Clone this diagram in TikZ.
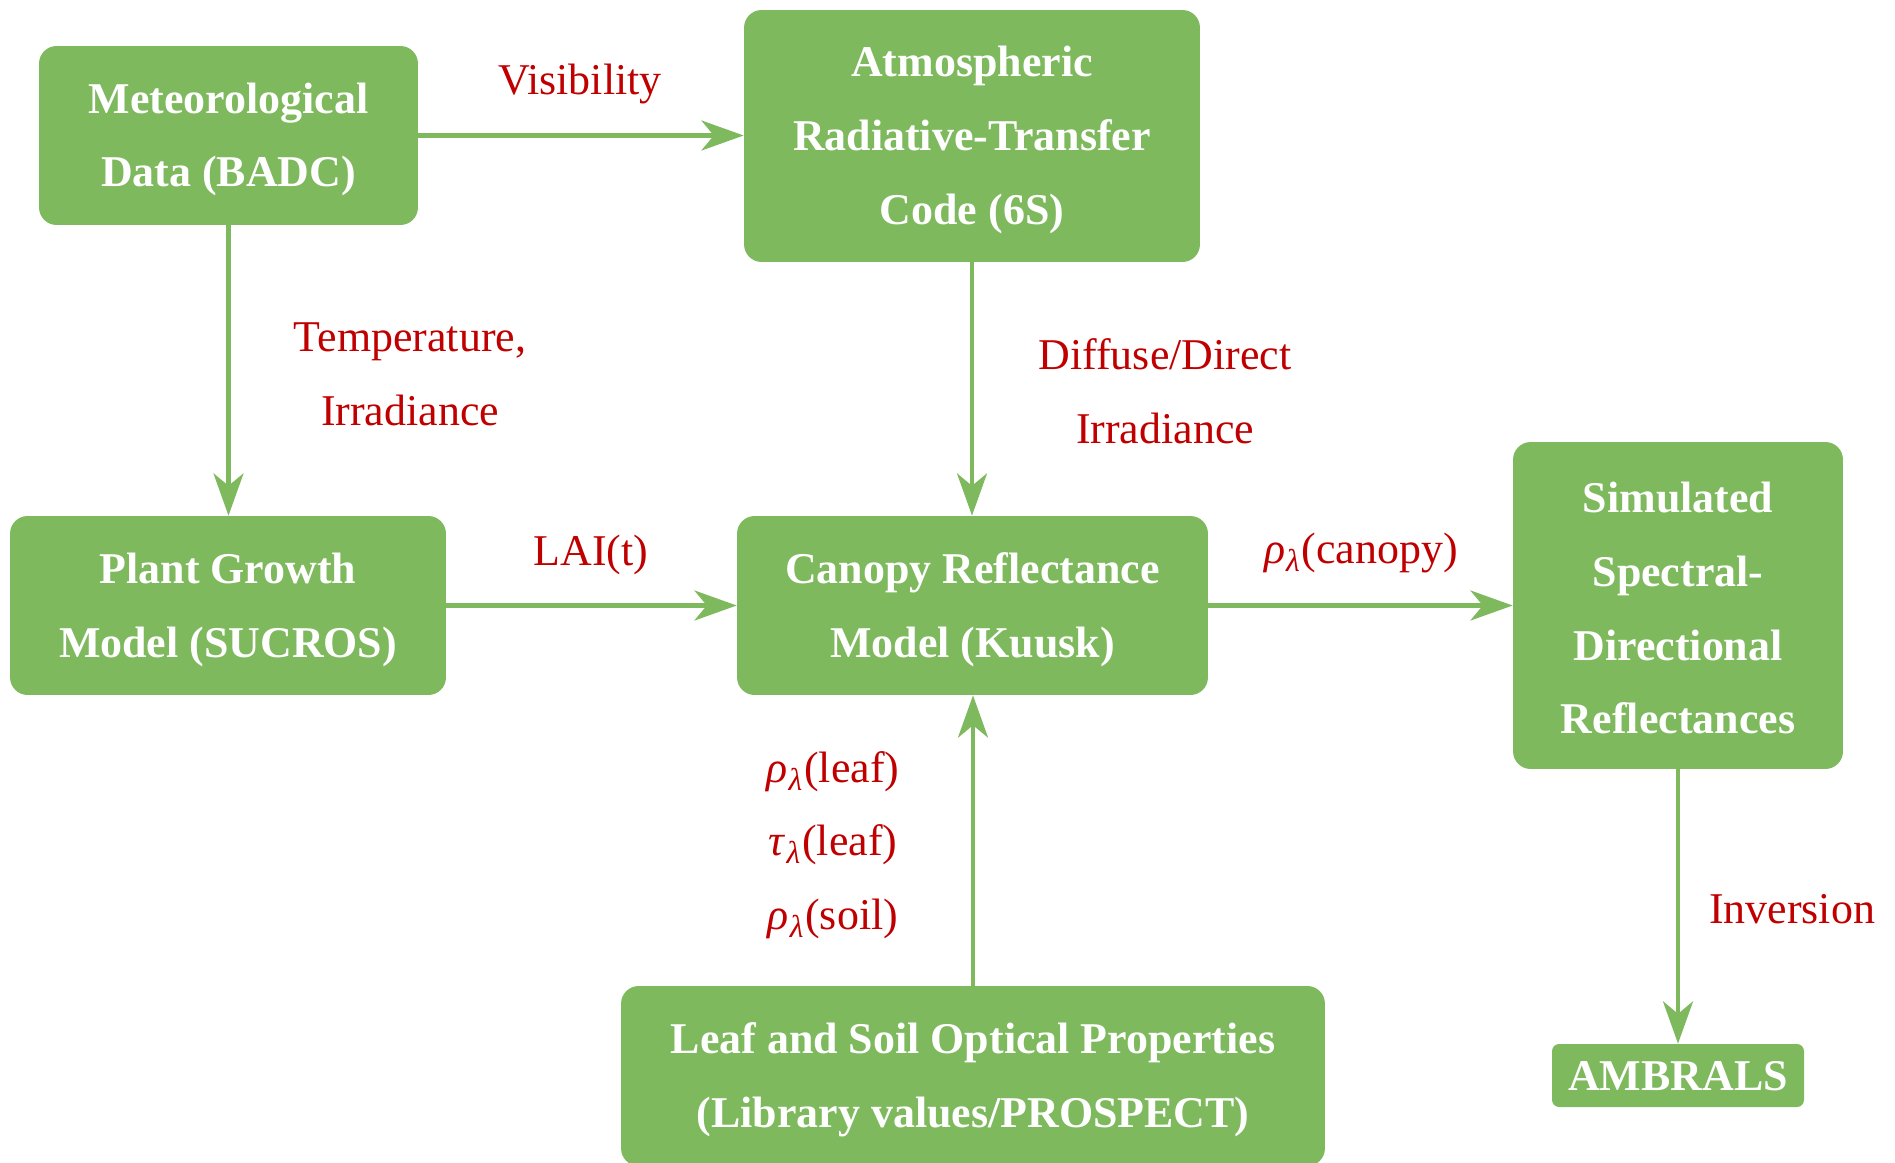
\documentclass[tikz,border=0pt]{standalone}
\usepackage{fontspec}
\setmainfont{Liberation Serif}
\usetikzlibrary{arrows.meta}
\definecolor{boxgreen}{RGB}{126,185,94}
\definecolor{labred}{RGB}{192,0,0}
\newcommand\grk[1]{\textit{#1}\kern0.5pt\raisebox{-0.4ex}{\fontsize{18}{18}\selectfont\textit{λ}}\kern1pt}
\begin{document}
\begin{tikzpicture}[x=0.02cm,y=-0.02cm,
  box/.style={fill=boxgreen, rounded corners=10pt, inner sep=0pt},
  boxtext/.style={text=white, font=\fontsize{25}{42}\selectfont\bfseries, align=center, inner sep=0pt},
  lab/.style={text=labred, font=\fontsize{25}{42}\selectfont, align=center, inner sep=0pt},
  arr/.style={draw=boxgreen, line width=2.8pt, -{Stealth[length=24pt,width=17pt,inset=7pt]}}]
\useasboundingbox (0,0) rectangle (1895,1162);
\node[box, minimum width=7.58cm, minimum height=3.58cm] (met) at (228.5,135.5) {};
\node[box, minimum width=9.12cm, minimum height=5.04cm] (atm) at (972,136) {};
\node[box, minimum width=8.72cm, minimum height=3.58cm] (plant) at (228,605.5) {};
\node[box, minimum width=9.42cm, minimum height=3.58cm] (can) at (972.5,605.5) {};
\node[box, minimum width=6.6cm, minimum height=6.54cm] (sim) at (1678,605.5) {};
\node[box, rounded corners=4pt, minimum width=5.04cm, minimum height=1.26cm] (amb) at (1678,1075.5) {};
\node[box, minimum width=14.08cm, minimum height=3.6cm] (leaf) at (973,1076) {};

\node[boxtext] (metT) at ([yshift=-2.3pt]met.center) {Meteorological\\Data (BADC)};
\node[boxtext] (atmT) at ([yshift=-2.3pt]atm.center) {Atmospheric\\Radiative-Transfer\\Code (6S)};
\node[boxtext] (plantT) at ([yshift=-2.3pt]plant.center) {Plant Growth\\Model (SUCROS)};
\node[boxtext] (canT) at ([yshift=-2.3pt]can.center) {Canopy Reflectance\\Model (Kuusk)};
\node[boxtext] (simT) at ([yshift=-1.5pt]sim.center) {Simulated\\Spectral-\\Directional\\Reflectances};
\node[boxtext] (ambT) at ([yshift=-0.6pt]amb.center) {AMBRALS};
\node[boxtext] (leafT) at ([yshift=-2.3pt]leaf.center) {Leaf and Soil Optical Properties\\(Library values/PROSPECT)};

\node[lab] (vis) at (580,84) {Visibility};
\node[lab] (temp) at (410,374) {Temperature,\\Irradiance};
\node[lab] (diff) at (1165,391) {Diffuse/Direct\\Irradiance};
\node[lab] (lai) at (591,555) {LAI(t)};
\node[lab] (rc) at (1361,553) {\grk{ρ}(canopy)};
\node[lab] (rl) at (833,845) {\grk{ρ}(leaf)\\\grk{τ}(leaf)\\\grk{ρ}(soil)};
\node[lab] (inv) at (1792,909) {Inversion};

\draw[arr] (met.east) -- (met.east -| atm.west);
\draw[arr] (met.south) -- (met.south |- plant.north);
\draw[arr] (atm.south) -- (atm.south |- can.north);
\draw[arr] (plant.east) -- (plant.east -| can.west);
\draw[arr] (can.east) -- (can.east -| sim.west);
\draw[arr] (leaf.north) -- (leaf.north |- can.south);
\draw[arr] (sim.south) -- (sim.south |- amb.north);
\end{tikzpicture}
\end{document}
